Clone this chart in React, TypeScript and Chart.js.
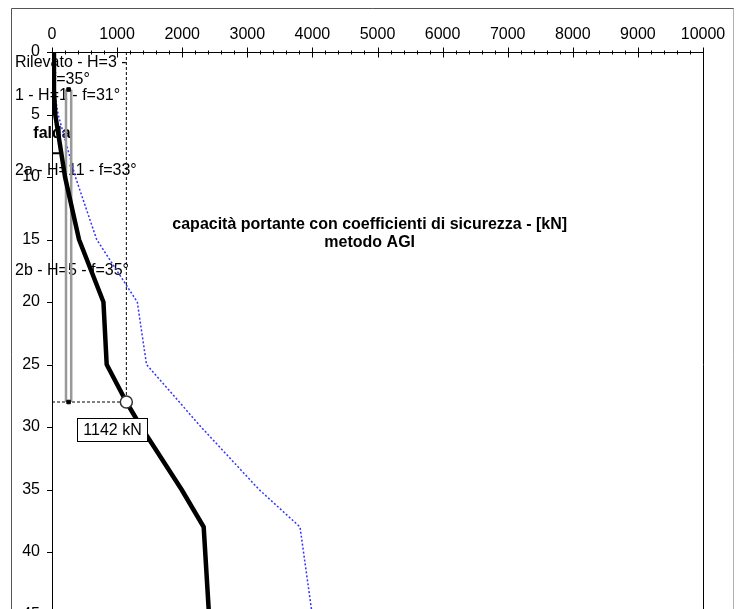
import React, { useEffect, useRef } from 'react';
import { Chart, registerables } from 'chart.js';

Chart.register(...registerables);

// ---- data (depth in m, capacity in kN) ----
const depthsAGI = [0, 3, 5, 10, 15, 20, 25, 28, 30, 35, 38, 50];
const capacityAGI = [30, 30, 50, 200, 415, 790, 840, 1142, 1370, 1990, 2330, 2470];
const depthsUlt = [0, 3, 5, 10, 15, 20, 25, 30, 35, 38, 50];
const capacityUlt = [30, 30, 94, 360, 686, 1310, 1452, 2290, 3180, 3810, 4130];
const pileTopDepth = 3;
const pileBottomDepth = 28;
const pileEdges = [215, 295];
const designLoad = 1142;
const waterTableDepth = 8.1;
const waterTableLength = 110;
const layerNames = ['Rilevato - H=3 - f=35°', '1 - H=1 - f=31°', '2a - H=11 - f=33°', '2b - H=5 - f=35°'];
const layerMidDepths = [1.5, 3.5, 9.5, 17.5];
const waterTableLabel = 'falda';
const waterTableLabelDepth = 6.5;
const titleLines = ['capacità portante con coefficienti di sicurezza - [kN]', 'metodo AGI'];
const xMax = 10000;
const xStep = 1000;
const xMinorStep = 200;
const yMax = 50;
const yStep = 5;

const FONT = "'Liberation Sans', Arial, sans-serif";

const overlay = {
  id: 'overlay',
  beforeDraw(chart: any) {
    const ctx = chart.ctx;
    ctx.save();
    ctx.fillStyle = '#fff';
    ctx.fillRect(0, 0, chart.width, chart.height);
    ctx.lineWidth = 1;
    ctx.strokeStyle = '#555';
    ctx.beginPath();
    ctx.moveTo(11.5, chart.height);
    ctx.lineTo(11.5, 8.5);
    ctx.lineTo(734, 8.5);
    ctx.stroke();
    ctx.strokeStyle = '#b0b0b0';
    ctx.beginPath();
    ctx.moveTo(733.5, 8.5);
    ctx.lineTo(733.5, chart.height);
    ctx.stroke();
    ctx.restore();
  },
  beforeDatasetsDraw(chart: any) {
    const { ctx, chartArea: a, scales } = chart;
    const x = scales.x;
    const y = scales.y;
    ctx.save();
    ctx.strokeStyle = '#000';
    ctx.lineWidth = 1;
    ctx.beginPath();
    ctx.moveTo(a.left + 0.5, a.bottom);
    ctx.lineTo(a.left + 0.5, a.top + 0.5);
    ctx.lineTo(a.right + 0.5, a.top + 0.5);
    ctx.lineTo(a.right + 0.5, a.bottom);
    for (let v = 0; v <= xMax; v += xMinorStep) {
      const px = Math.round(x.getPixelForValue(v)) + 0.5;
      const major = v % xStep === 0;
      const len = major ? 5 : 2;
      ctx.moveTo(px, a.top + 0.5 - len);
      ctx.lineTo(px, a.top + 0.5 + len);
    }
    for (let v = 0; v <= yMax; v += yStep) {
      const py = Math.round(y.getPixelForValue(v)) + 0.5;
      ctx.moveTo(a.left - 5, py);
      ctx.lineTo(a.left + 0.5, py);
    }
    ctx.stroke();

    // layer labels (under the series lines)
    ctx.fillStyle = '#000';
    ctx.font = `16px ${FONT}`;
    ctx.textBaseline = 'middle';
    const lx = a.left - 37;
    const maxW = 140;
    layerNames.forEach((name, i) => {
      const words = name.split(' ');
      const lines: string[] = [];
      let cur = '';
      words.forEach((w) => {
        const t = cur ? cur + ' ' + w : w;
        if (cur && ctx.measureText(t).width > maxW) {
          lines.push(cur);
          cur = w;
        } else cur = t;
      });
      if (cur) lines.push(cur);
      const boxW = Math.max(...lines.map((l) => ctx.measureText(l).width));
      const cy = y.getPixelForValue(layerMidDepths[i]);
      const lh = 17;
      lines.forEach((l, k) => {
        const w = ctx.measureText(l).width;
        const ty = cy + (k - (lines.length - 1) / 2) * lh;
        ctx.textAlign = 'left';
        ctx.fillText(l, lx + (boxW - w) / 2, ty);
      });
    });
    ctx.font = `bold 16px ${FONT}`;
    ctx.textAlign = 'center';
    ctx.fillText(waterTableLabel, x.getPixelForValue(0), y.getPixelForValue(waterTableLabelDepth));

    // title
    const tx = a.left + 0.488 * (a.right - a.left);
    ctx.fillText(titleLines[0], tx, a.top + 173);
    ctx.fillText(titleLines[1], tx, a.top + 191);
    ctx.restore();
  },
  afterDatasetsDraw(chart: any) {
    const { ctx, scales } = chart;
    const x = scales.x;
    const y = scales.y;
    const mx = x.getPixelForValue(designLoad);
    const my = y.getPixelForValue(pileBottomDepth);
    const text = `${designLoad} kN`;
    ctx.save();
    ctx.font = `16px ${FONT}`;
    const w = ctx.measureText(text).width + 12;
    const h = 23;
    const cx = mx - 14;
    const cy = my + 27.5;
    const bx = Math.round(cx - w / 2) + 0.5;
    const by = Math.round(cy - h / 2) + 0.5;
    ctx.fillStyle = '#fff';
    ctx.fillRect(bx, by, Math.round(w), h);
    ctx.strokeStyle = '#000';
    ctx.lineWidth = 1;
    ctx.strokeRect(bx, by, Math.round(w), h);
    ctx.fillStyle = '#000';
    ctx.textAlign = 'center';
    ctx.textBaseline = 'middle';
    ctx.fillText(text, bx + Math.round(w) / 2, by + h / 2 + 1);
    ctx.restore();
  },
};

export default function App() {
  const ref = useRef<HTMLCanvasElement | null>(null);

  useEffect(() => {
    if (!ref.current) return;
    const pts = (xs: number[], ys: number[]) => xs.map((v, i) => ({ x: v, y: ys[i] }));
    const pileMid = (pileEdges[0] + pileEdges[1]) / 2;
    const chart = new Chart(ref.current, {
      type: 'scatter',
      data: {
        datasets: [
          {
            label: 'design',
            data: [{ x: designLoad, y: pileBottomDepth }],
            pointRadius: 6,
            pointBackgroundColor: '#fff',
            pointBorderColor: '#333',
            pointBorderWidth: 1.5,
            showLine: false,
            clip: false,
          } as any,
          {
            label: 'AGI',
            data: pts(capacityAGI, depthsAGI),
            borderColor: '#000',
            borderWidth: 4.5,
            pointRadius: 0,
            showLine: true,
            borderJoinStyle: 'round',
          },
          {
            label: 'pile ends',
            data: [
              { x: pileMid, y: pileTopDepth },
              { x: pileMid, y: pileBottomDepth },
            ],
            pointStyle: 'rect',
            pointRadius: 2.5,
            pointBackgroundColor: '#000',
            pointBorderColor: '#000',
            showLine: false,
          },
          {
            label: 'pile L',
            data: [
              { x: pileEdges[0], y: pileTopDepth },
              { x: pileEdges[0], y: pileBottomDepth },
            ],
            borderColor: '#999',
            borderWidth: 2.5,
            pointRadius: 0,
            showLine: true,
          },
          {
            label: 'pile R',
            data: [
              { x: pileEdges[1], y: pileTopDepth },
              { x: pileEdges[1], y: pileBottomDepth },
            ],
            borderColor: '#999',
            borderWidth: 2.5,
            pointRadius: 0,
            showLine: true,
          },
          {
            label: 'guide v',
            data: [
              { x: designLoad, y: 0 },
              { x: designLoad, y: pileBottomDepth },
            ],
            borderColor: '#000',
            borderWidth: 1,
            borderDash: [3, 2],
            pointRadius: 0,
            showLine: true,
          },
          {
            label: 'guide h',
            data: [
              { x: 0, y: pileBottomDepth },
              { x: designLoad, y: pileBottomDepth },
            ],
            borderColor: '#000',
            borderWidth: 1,
            borderDash: [3, 2],
            pointRadius: 0,
            showLine: true,
          },
          {
            label: 'falda',
            data: [
              { x: 0, y: waterTableDepth },
              { x: waterTableLength, y: waterTableDepth },
            ],
            borderColor: '#000',
            borderWidth: 2,
            pointRadius: 0,
            showLine: true,
          },
          {
            label: 'ultimate',
            data: pts(capacityUlt, depthsUlt),
            borderColor: '#3333ff',
            borderWidth: 1.5,
            borderDash: [2, 2],
            pointRadius: 0,
            showLine: true,
          },
        ],
      },
      options: {
        animation: false,
        responsive: false,
        devicePixelRatio: 1,
        events: [],
        layout: { padding: { left: 0, top: 0, right: 33, bottom: 23 } },
        plugins: { legend: { display: false }, tooltip: { enabled: false }, title: { display: false } },
        scales: {
          x: {
            type: 'linear',
            position: 'top',
            min: 0,
            max: xMax,
            grid: { display: false, drawTicks: false, tickLength: 0 },
            border: { display: false },
            ticks: {
              stepSize: xStep,
              autoSkip: false,
              maxRotation: 0,
              padding: 8,
              color: '#000',
              font: { family: FONT, size: 16 },
              callback: (v: any) => String(v),
            },
            afterFit: (s: any) => {
              s.height = 52;
            },
          },
          y: {
            type: 'linear',
            position: 'left',
            reverse: true,
            min: 0,
            max: yMax,
            grid: { display: false, drawTicks: false, tickLength: 0 },
            border: { display: false },
            ticks: {
              stepSize: yStep,
              autoSkip: false,
              padding: 12,
              color: '#000',
              font: { family: FONT, size: 16 },
              callback: (v: any) => String(v),
            },
            afterFit: (s: any) => {
              s.width = 52;
            },
          },
        },
      } as any,
      plugins: [overlay],
    });
    return () => chart.destroy();
  }, []);

  return (
    <div
      style={{
        position: 'fixed',
        left: 0,
        top: 0,
        width: 736,
        height: 609,
        overflow: 'hidden',
        background: '#fff',
      }}
    >
      <canvas ref={ref} width={736} height={700} style={{ position: 'absolute', left: 0, top: 0 }} />
    </div>
  );
}
